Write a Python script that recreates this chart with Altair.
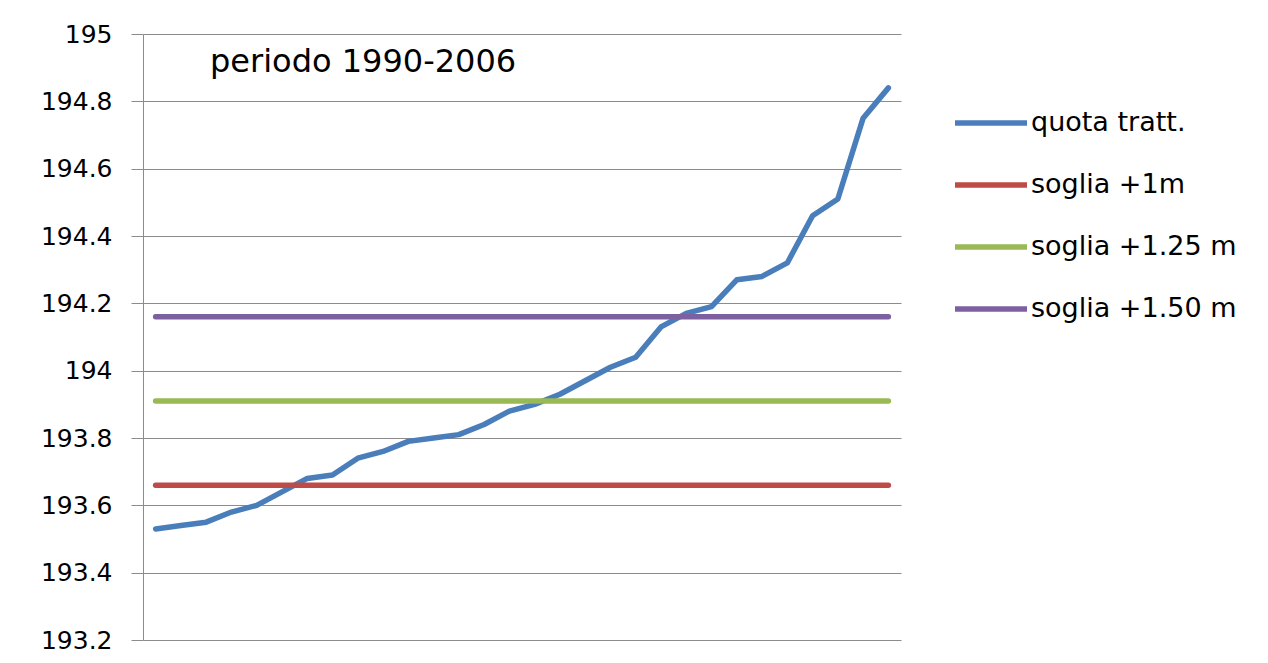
import altair as alt
import pandas as pd

# ---- data ----
years_idx = list(range(1, 31))
quota_tratt = [193.53, 193.54, 193.55, 193.58, 193.60, 193.64, 193.68, 193.69,
               193.74, 193.76, 193.79, 193.80, 193.81, 193.84, 193.88, 193.90,
               193.93, 193.97, 194.01, 194.04, 194.13, 194.17, 194.19, 194.27,
               194.28, 194.32, 194.46, 194.51, 194.75, 194.84]
threshold_names = ["soglia +1m", "soglia +1.25 m", "soglia +1.50 m"]
threshold_values = [193.66, 193.91, 194.16]
series_names = ["quota tratt."] + threshold_names
series_colors = ["#4A7EBB", "#BE4B48", "#98B954", "#7D60A0"]
y_ticks = [193.2, 193.4, 193.6, 193.8, 194.0, 194.2, 194.4, 194.6, 194.8, 195.0]
annotation = "periodo 1990-2006"

rows = []
for i, v in zip(years_idx, quota_tratt):
    rows.append({"i": i, "serie": "quota tratt.", "value": v})
for name, val in zip(threshold_names, threshold_values):
    for i in years_idx:
        rows.append({"i": i, "serie": name, "value": val})
df = pd.DataFrame(rows)

FONT = "DejaVu Sans"

lines = alt.Chart(df).mark_line(strokeWidth=5.5, strokeCap="round", strokeJoin="round").encode(
    x=alt.X("i:O", axis=None),
    y=alt.Y("value:Q",
            scale=alt.Scale(domain=[193.2, 195.0], nice=False, zero=False),
            axis=alt.Axis(values=y_ticks, format=".1~f", title=None,
                          labelFontSize=25, labelFont=FONT, labelColor="#000000",
                          labelPadding=19, tickSize=12, tickColor="#8c8c8c",
                          domainColor="#8c8c8c", gridColor="#8c8c8c",
                          gridWidth=1, grid=True)),
    color=alt.Color("serie:N",
                    scale=alt.Scale(domain=series_names, range=series_colors),
                    sort=series_names,
                    legend=alt.Legend(title=None, orient="none", legendX=809, legendY=50,
                                      symbolType="stroke", symbolSize=5184,
                                      symbolStrokeWidth=5.5, labelFontSize=27,
                                      labelFont=FONT, labelColor="#000000",
                                      labelOffset=1, rowPadding=10, labelLimit=400)),
    order=alt.Order("i:O"),
)

text = alt.Chart(pd.DataFrame({"t": [annotation]})).mark_text(
    align="left", baseline="middle", fontSize=32, font=FONT, color="#000000"
).encode(x=alt.value(67), y=alt.value(28), text="t:N")

chart = alt.layer(lines, text).properties(
    width=758, height=606,
    padding={"left": 135, "top": 26, "right": 347, "bottom": 14},
    autosize=alt.AutoSizeParams(type="none"),
    background="white",
).configure_view(stroke=None)

chart.save("out.html", embed_options={"renderer": "svg", "actions": False})
